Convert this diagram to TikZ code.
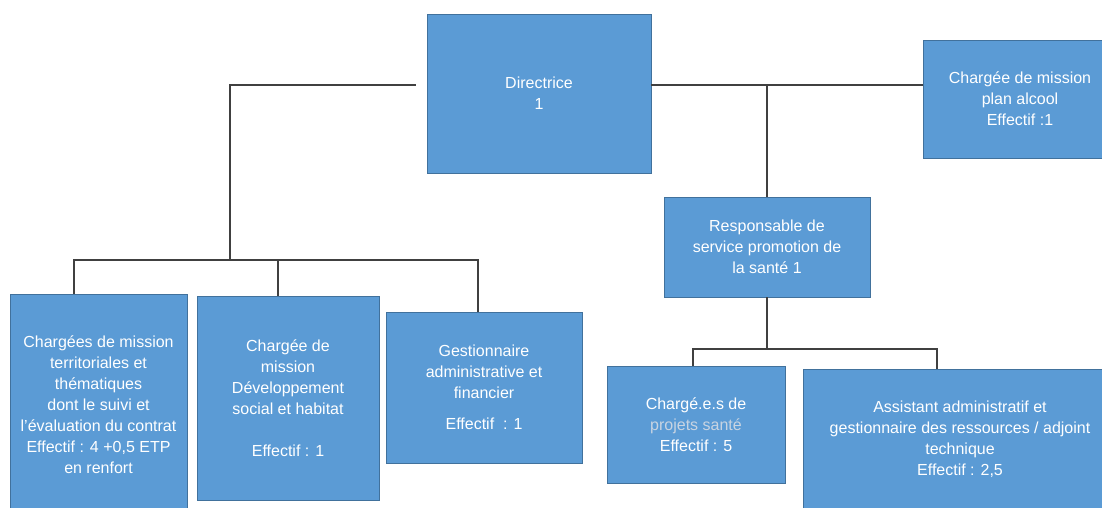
\documentclass[tikz,border=0pt]{standalone}
\usepackage{fontspec}
\setmainfont{Liberation Sans}
\definecolor{boxblue}{RGB}{91,155,213}
\definecolor{boxline}{RGB}{65,113,156}
\definecolor{linkgray}{RGB}{64,64,64}
\definecolor{paletxt}{RGB}{200,212,226}
\begin{document}
\begin{tikzpicture}[x=1pt,y=-1pt,
	poste/.style={draw=boxline,line width=0.8pt,fill=boxblue,text=white,align=center,inner sep=2pt,font=\fontsize{16}{21}\selectfont},
	link/.style={draw=linkgray,line width=1.6pt}]
	\clip (0,0) rectangle (1102,508);
	\fill[white] (0,0) rectangle (1102,508);
	\node[poste,minimum width=224pt,minimum height=159pt] (dir) at (539,93.5) {Directrice\\1};
	\node[poste,minimum width=194pt,minimum height=118pt] (alcool) at (1020,99) {Chargée de mission\\plan alcool\\Effectif :1};
	\node[poste,minimum width=206pt,minimum height=100pt] (resp) at (767,247) {Responsable de\\service promotion de\\la santé 1};
	\node[poste,minimum width=177pt,minimum height=221pt] (terr) at (98.5,404.5) {Chargées de mission\\territoriales et\\thématiques\\dont le suivi et\\l'évaluation du contrat\\Effectif : 4 +0,5 ETP\\en renfort};
	\node[poste,minimum width=182pt,minimum height=204pt] (dev) at (288,398) {Chargée de\\mission\\Développement\\social et habitat\\[21pt]Effectif : 1};
	\node[poste,minimum width=196pt,minimum height=151pt] (gest) at (484,387.5) {Gestionnaire\\administrative et\\financier\\[10pt]Effectif \ : 1};
	\node[poste,minimum width=178pt,minimum height=117pt] (proj) at (696,424.5) {Chargé.e.s de\\\textcolor{paletxt}{projets santé}\\Effectif : 5};
	\node[poste,minimum width=314pt,minimum height=141pt] (assist) at (960,439.5) {Assistant administratif et\\gestionnaire des ressources / adjoint\\technique\\Effectif : 2,5};
	% liaisons
	\coordinate (hub) at (767,85);
	\coordinate (lbar) at (230,260);
	\coordinate (rbar) at (767,349);
	\draw[link] (dir.east |- hub) -- (alcool.west |- hub);
	\draw[link] (hub) -- (resp.north);
	\draw[link] ([xshift=-11pt]dir.west |- hub) -| (lbar);
	\draw[link] ([xshift=-24.5pt]terr.north) |- (lbar) -| ([xshift=-6pt]gest.north);
	\draw[link] ([xshift=-10pt]dev.north) -- ([xshift=-10pt]dev.north |- lbar);
	\draw[link] (resp.south) -- (rbar);
	\draw[link] ([xshift=-3pt]proj.north) |- (rbar) -| ([xshift=-23pt]assist.north);
\end{tikzpicture}
\end{document}
